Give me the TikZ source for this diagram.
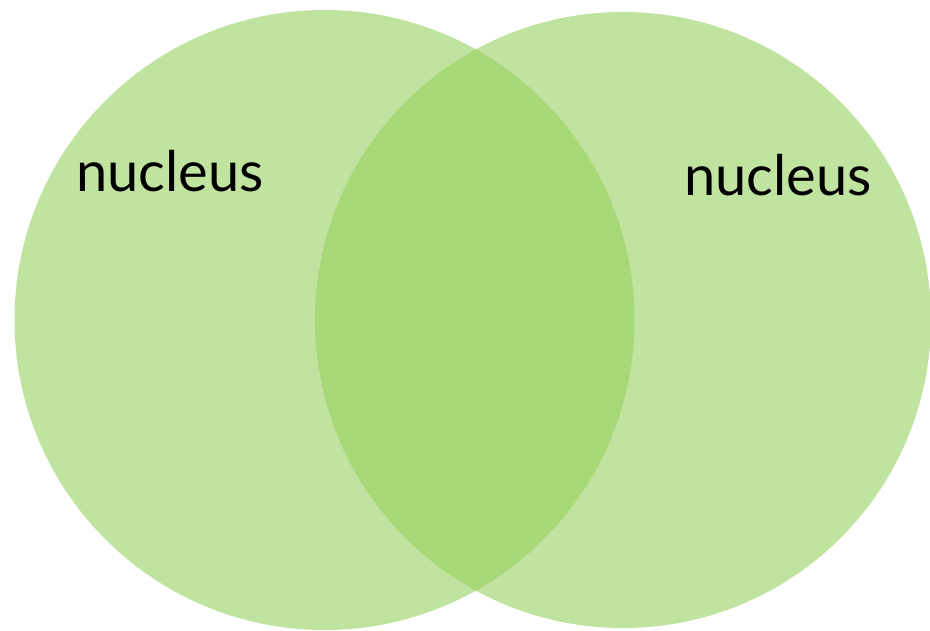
\documentclass[tikz,border=0pt]{standalone}
\usepackage{fontspec}
\setmainfont{Lato}
\definecolor{lightg}{RGB}{193,227,160}
\definecolor{darkg}{RGB}{168,216,120}
\begin{document}
\begin{tikzpicture}[x=1pt,y=-1pt,
  lbl/.style={font=\fontsize{56}{62}\selectfont, inner sep=0pt, anchor=base west}]
\useasboundingbox (0,0) rectangle (930,631);
\fill[lightg] (324.5,320) circle (310);
\fill[lightg] (623,320) circle (308);
\begin{scope}
  \clip (324.5,320) circle (310);
  \fill[darkg] (623,320) circle (308);
\end{scope}
\node[lbl] (l) at (76,192) {nucleus};
\node[lbl] (r) at (684,196) {nucleus};
\end{tikzpicture}
\end{document}
